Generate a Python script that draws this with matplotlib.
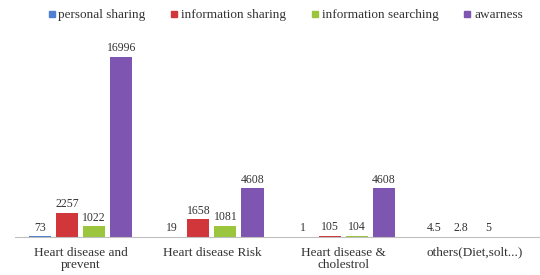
import numpy as np
import matplotlib
matplotlib.use("Agg")
import matplotlib.pyplot as plt
from matplotlib.lines import Line2D

categories = ["Heart disease and\nprevent", "Heart disease Risk", "Heart disease &\ncholestrol", "others(Diet,solt...)"]
series_names = ["personal sharing", "information sharing", "information searching", "awarness"]
personal_sharing = [73, 19, 1, 4.5]
information_sharing = [2257, 1658, 105, 2.8]
information_searching = [1022, 1081, 104, 5]
awarness = [16996, 4608, 4608, np.nan]
series = [personal_sharing, information_sharing, information_searching, awarness]
colors = ["#4F7FD0", "#D0363A", "#9BC53D", "#7E55B0"]

plt.rcParams['font.family'] = ['Liberation Serif', 'DejaVu Serif']
fig = plt.figure(figsize=(5.4, 2.75), dpi=100)
ax = fig.add_axes([0.028, 0.138, 0.972, 0.735])

x = np.arange(len(categories))
step = 0.206
width = 0.168
for i, (vals, c) in enumerate(zip(series, colors)):
    pos = x + (i - 1.5) * step
    v = np.array(vals, dtype=float)
    ax.bar(pos, np.nan_to_num(v), width=width, color=c)
    for p, val in zip(pos, v):
        if not np.isnan(val):
            ax.text(p, val + 250, f"{val:g}", ha="center", va="bottom",
                    fontsize=8.5, color="#333333")

ax.set_xlim(-0.5, 3.5)
ax.set_ylim(0, 19073)
ax.set_yticks([])
ax.set_xticks(x)
ax.set_xticklabels(categories, fontsize=9.5, color="#333333", linespacing=1.0)
ax.tick_params(axis="x", length=0, pad=7)
for s in ["left", "right", "top"]:
    ax.spines[s].set_visible(False)
ax.spines["bottom"].set_color("#BFBFBF")

handles = [Line2D([0], [0], marker="s", linestyle="none", markersize=4,
                  markerfacecolor=c, markeredgecolor=c) for c in colors]
fig.legend(handles, series_names, loc="upper center", bbox_to_anchor=(0.527, 1.01),
           ncol=4, frameon=False, fontsize=9.5, handletextpad=0.1,
           columnspacing=1.8, labelcolor="#333333", handlelength=0.8)

fig.savefig("out.png", dpi=100)
